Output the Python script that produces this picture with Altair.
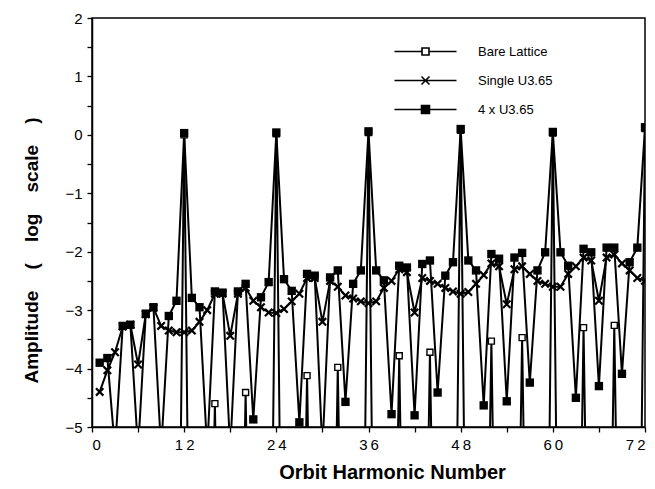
import altair as alt
import pandas as pd

harmonic = list(range(1, 73))
series_names = ["Bare Lattice", "Single U3.65", "4 x U3.65"]

# values (log10 amplitude); values below -5 fall off the axis
bare_lattice = [
    -12, -12, -12, -5.3, -12, -12, -12, -5.2, -12, -12, -12, 0.0,
    -12, -12, -12, -4.6, -12, -12, -12, -4.41, -12, -12, -12, 0.02,
    -12, -12, -12, -4.12, -12, -12, -12, -3.98, -12, -12, -12, 0.04,
    -12, -12, -12, -3.78, -12, -12, -12, -3.72, -12, -12, -12, 0.08,
    -12, -12, -12, -3.53, -12, -12, -12, -3.47, -12, -12, -12, 0.03,
    -12, -12, -12, -3.30, -12, -12, -12, -3.26, -12, -12, -12, 0.11,
]
single_u365 = [
    -4.40, -4.03, -3.72, -3.28, -3.25, -3.93, -3.07, -2.96, -3.27, -3.35, -3.38, -3.38,
    -3.35, -3.20, -3.00, -2.72, -2.72, -3.44, -2.72, -2.62, -2.84, -2.95, -3.04, -3.05,
    -2.98, -2.85, -2.72, -2.45, -2.45, -3.20, -2.50, -2.60, -2.75, -2.80, -2.85, -2.88,
    -2.85, -2.62, -2.50, -2.30, -2.35, -3.04, -2.45, -2.50, -2.55, -2.62, -2.68, -2.72,
    -2.69, -2.55, -2.40, -2.20, -2.25, -2.90, -2.30, -2.25, -2.38, -2.50, -2.55, -2.60,
    -2.60, -2.38, -2.25, -2.10, -2.15, -2.84, -2.10, -2.05, -2.20, -2.32, -2.45, -2.50,
]
four_u365 = [
    -3.90, -3.82, -5.4, -3.27, -3.25, -5.4, -3.06, -2.95, -5.4, -3.10, -2.84, 0.03,
    -2.79, -2.95, -5.4, -2.68, -2.70, -5.4, -2.68, -2.55, -4.87, -2.78, -2.52, 0.04,
    -2.47, -2.67, -4.92, -2.38, -2.41, -5.4, -2.44, -2.32, -4.57, -2.55, -2.32, 0.06,
    -2.32, -2.49, -4.78, -2.24, -2.27, -4.80, -2.21, -2.15, -4.41, -2.41, -2.18, 0.10,
    -2.15, -2.32, -4.63, -2.04, -2.12, -4.56, -2.10, -2.02, -4.24, -2.32, -2.01, 0.05,
    -2.01, -2.24, -4.50, -1.95, -2.01, -4.30, -1.93, -1.93, -4.09, -2.18, -1.93, 0.13,
]

x_ticks = [0, 6, 12, 18, 24, 30, 36, 42, 48, 54, 60, 66, 72]
y_ticks = [-5, -4.5, -4, -3.5, -3, -2.5, -2, -1.5, -1, -0.5, 0, 0.5, 1, 1.5, 2]

rows = []
for name, vals in zip(series_names, [bare_lattice, single_u365, four_u365]):
    for h, v in zip(harmonic, vals):
        rows.append({"harmonic": h, "amp": v, "series": name})
df = pd.DataFrame(rows)

FONT = "Liberation Sans"
NB = "\u00a0"

xs = alt.X(
    "harmonic:Q",
    scale=alt.Scale(domain=[0, 72], nice=False, zero=False),
    axis=alt.Axis(
        values=x_ticks,
        labelExpr="datum.value % 12 === 0 ? (datum.value < 10 ? '' + datum.value : substring('' + datum.value, 0, 1) + '\u2009' + substring('' + datum.value, 1, 2)) : ''",
        title="Orbit Harmonic Number",
        titlePadding=10,
        titleX=300,
        titleFontSize=20,
        labelPadding=5,
    ),
)
ys = alt.Y(
    "amp:Q",
    scale=alt.Scale(domain=[-5, 2], nice=False, zero=False),
    axis=alt.Axis(
        values=y_ticks,
        labelExpr="datum.value % 1 === 0 ? format(datum.value, 'd') : ''",
        title=f"Amplitude{NB*4}({NB*4}log{NB*4}scale{NB*4})",
        titlePadding=23,
        titleY=232,
        titleFontSize=19,
        labelPadding=5,
    ),
)

base = alt.Chart(df)

lines = base.mark_line(color="black", strokeWidth=2, clip=True).encode(
    x=xs, y=ys, detail="series:N"
)

pts_bare = base.transform_filter(alt.datum.series == "Bare Lattice").mark_point(
    shape="square", filled=True, fill="white", stroke="black", strokeWidth=1.4,
    size=36, opacity=1, clip=True
).encode(x=xs, y=ys)

pts_single = base.transform_filter(alt.datum.series == "Single U3.65").mark_point(
    shape="M-1,-1L1,1M-1,1L1,-1", stroke="black", strokeWidth=2.2, size=55,
    opacity=1, clip=True
).encode(x=xs, y=ys)

pts_four = base.transform_filter(alt.datum.series == "4 x U3.65").mark_point(
    shape="square", filled=True, color="black", size=70, opacity=1, clip=True
).encode(x=xs, y=ys)

legend_paths = [
    "M-6.2,0H-0.7M0.7,0H6.2M-0.7,-0.7H0.7V0.7H-0.7Z",
    "M-6.2,0H6.2M-0.8,-0.8L0.8,0.8M-0.8,0.8L0.8,-0.8",
    "M-6.2,0H6.2M-0.8,-0.8H0.8V0.8H-0.8Z",
]
leg = dict(
    orient="none", legendX=327, legendY=27, title=None, padding=0,
    symbolSize=100, symbolStrokeWidth=1.6,
    symbolOpacity=1,
    labelFont=FONT, labelFontSize=13, labelColor="black", labelOffset=46,
    rowPadding=14,
)
# legend-only layer: draws no marks (empty after filter), its scales carry the legend
legend_layer = base.transform_filter(alt.datum.harmonic < 0).mark_point(
    filled=False
).encode(
    x=xs, y=ys,
    shape=alt.Shape("series:N", scale=alt.Scale(domain=series_names, range=legend_paths),
                    legend=alt.Legend(**leg)),
    fill=alt.Fill("series:N", scale=alt.Scale(domain=series_names, range=["white", "black", "black"]),
                  legend=alt.Legend(**leg)),
    stroke=alt.Stroke("series:N", scale=alt.Scale(domain=series_names, range=["black", "black", "black"]),
                      legend=alt.Legend(**leg)),
)

chart = alt.layer(lines, pts_bare, pts_single, pts_four, legend_layer).properties(
    width=553, height=409,
    autosize=alt.AutoSizeParams(type="none"),
    padding={"left": 84, "top": 10, "right": 2, "bottom": 54},
    background="white",
).configure_view(
    stroke="black", strokeWidth=1.5
).configure_axis(
    grid=False, domainColor="black", domainWidth=1.5, tickColor="black",
    tickWidth=1.3, tickSize=5, labelColor="black", titleColor="black",
    labelFont=FONT, titleFont=FONT, labelFontSize=15, titleFontSize=17,
    titleFontWeight="bold",
)

chart.save("out.html", embed_options={"renderer": "svg", "actions": False})
